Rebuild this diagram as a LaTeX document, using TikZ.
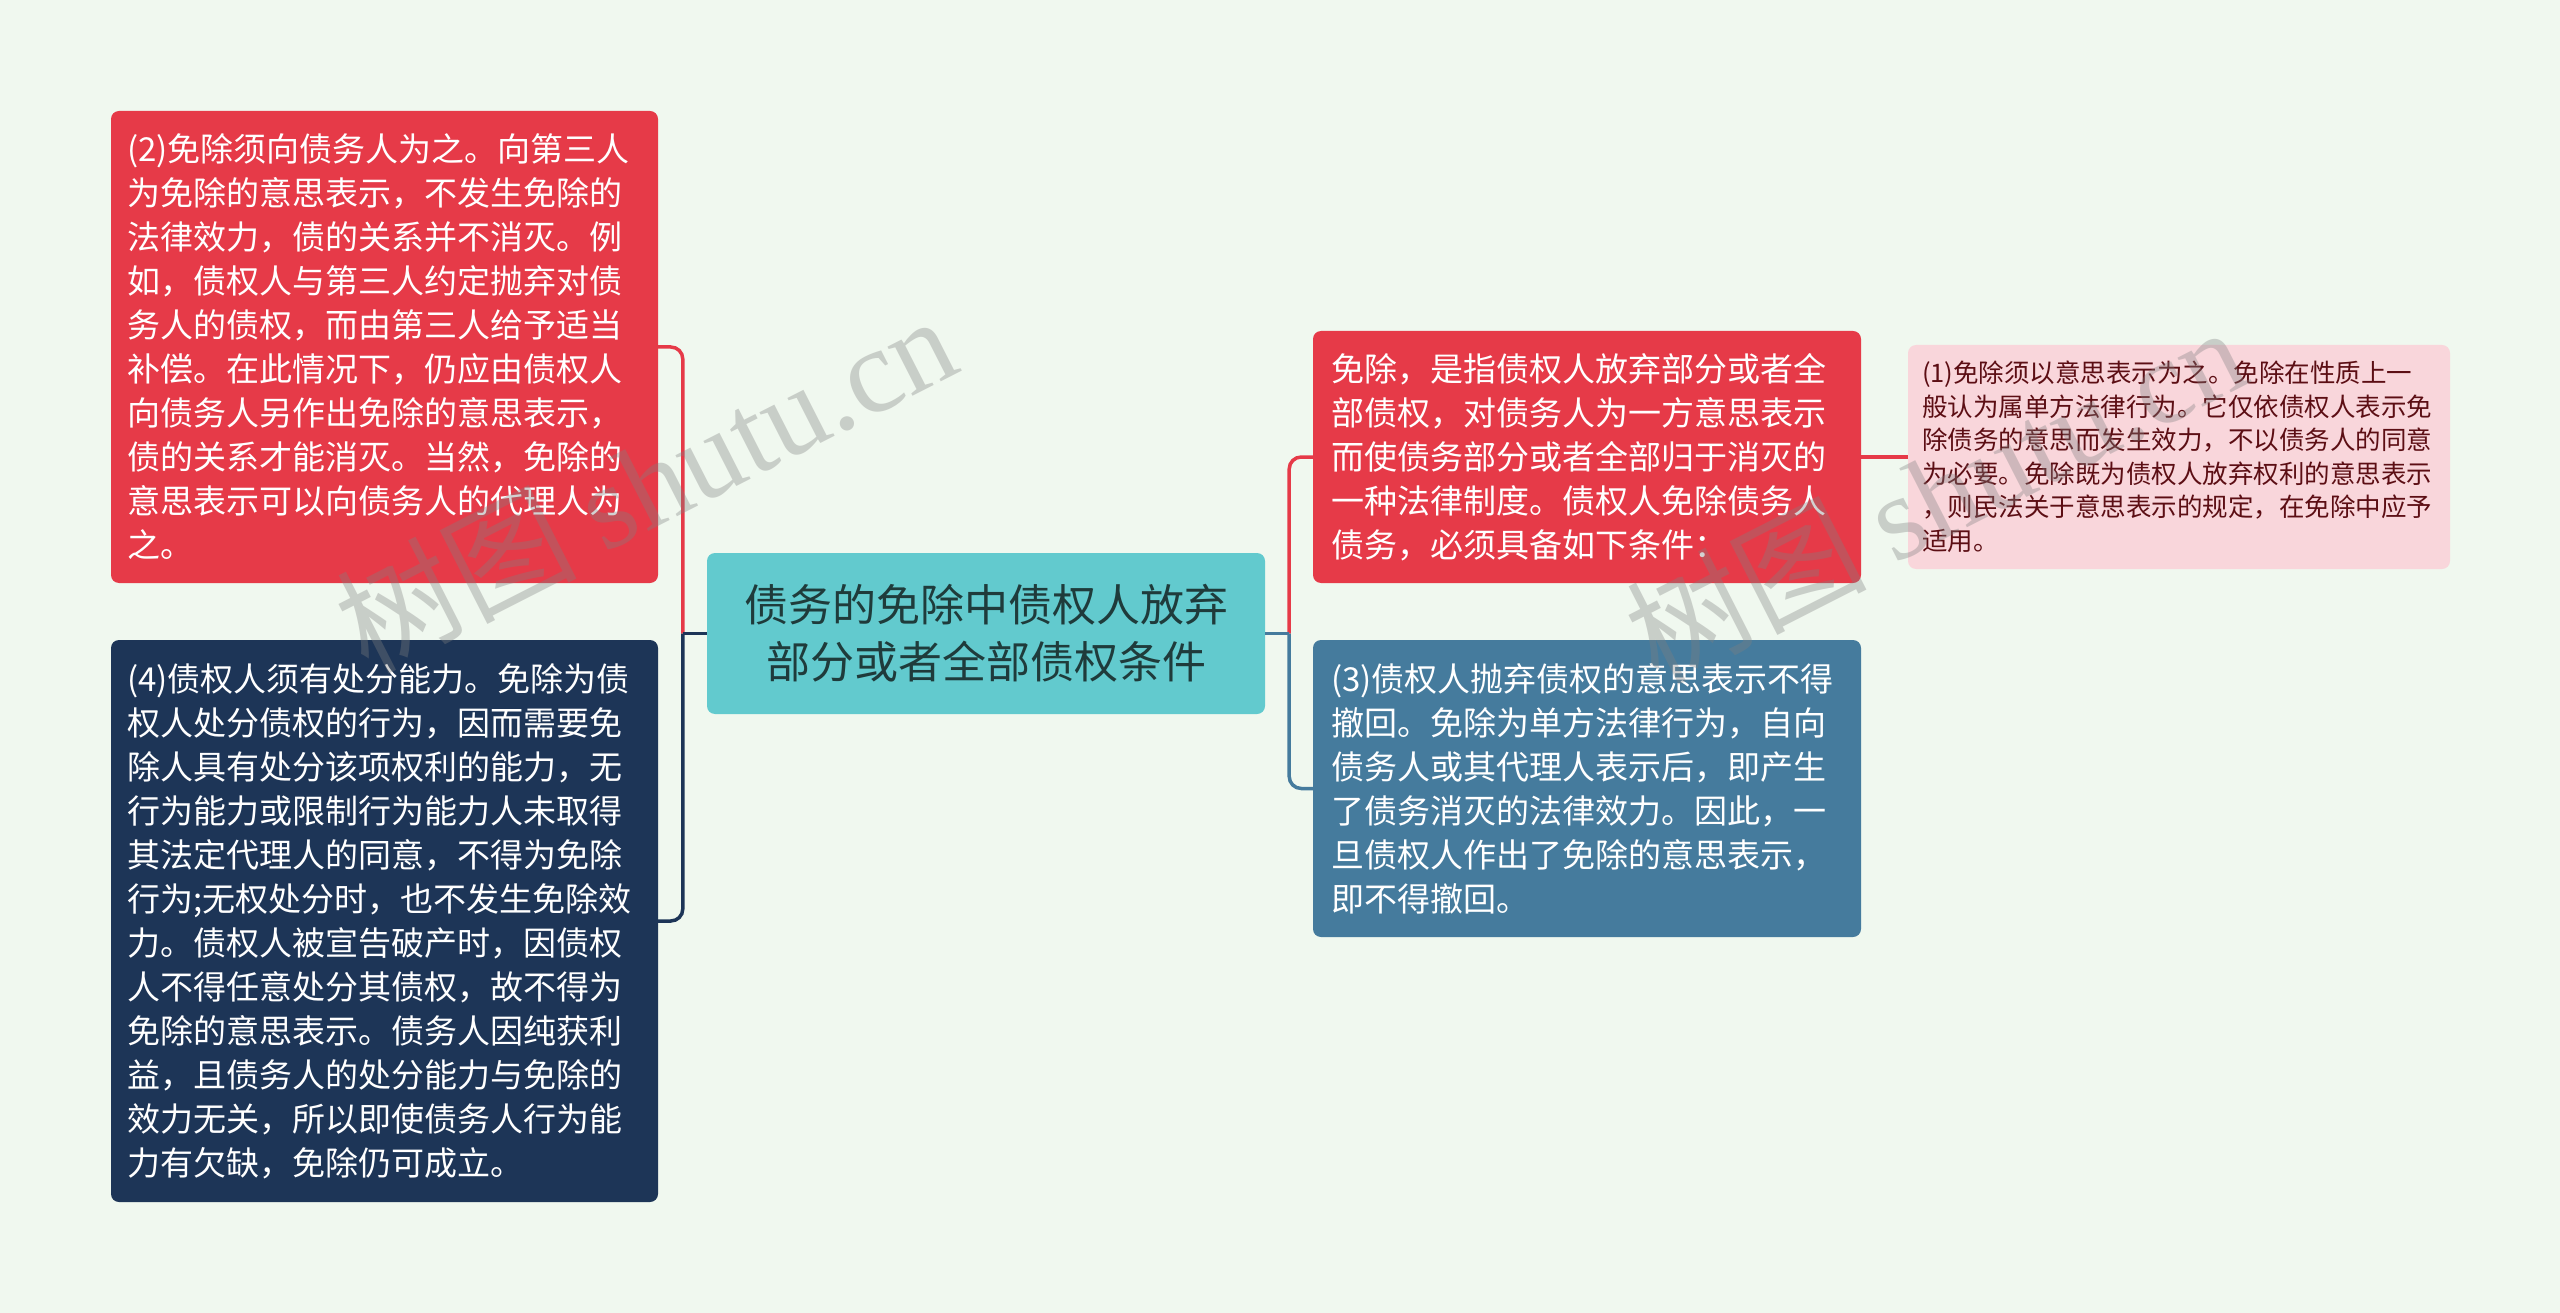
\documentclass[tikz,border=0pt]{standalone}
\usepackage{fontspec}
\setmainfont{Noto Sans CJK SC}
\newfontfamily\cjkfont{Noto Sans CJK SC}
\newfontfamily\wmserif{Liberation Serif}
\usetikzlibrary{calc}
\definecolor{bg}{HTML}{F0F8EF}
\definecolor{cred}{HTML}{E63A48}
\definecolor{cnavy}{HTML}{1D3557}
\definecolor{cblue}{HTML}{457B9D}
\definecolor{cteal}{HTML}{62CACE}
\definecolor{cpink}{HTML}{F9D6DB}
\definecolor{ctealtext}{HTML}{1F3B3B}
\definecolor{cpinktext}{HTML}{5C0E14}
\tikzset{
  box/.style={rectangle, rounded corners=8pt, inner sep=0pt, align=left},
  mainbox/.style={box, fill=#1, text=white, font=\fontsize{33}{44}\selectfont},
  centerbox/.style={box, fill=cteal, text=ctealtext, align=center, font=\fontsize{44}{57}\selectfont},
  pinkbox/.style={box, fill=cpink, text=cpinktext, font=\fontsize{25.5}{33.5}\selectfont},
  link/.style={line width=3.5pt, draw=#1, rounded corners=12pt},
  wm/.style={text=gray, opacity=0.35, font=\fontsize{120}{120}\selectfont, inner sep=0pt},
}
\begin{document}
\begin{tikzpicture}[x=1pt, y=-1pt]
\fill[bg] (0,0) rectangle (2560,1313);
\useasboundingbox (0,0) rectangle (2560,1313);

% center node
\node[centerbox, minimum width=558pt, minimum height=161pt, text width=540pt] (C) at (986,633.5)
  {债务的免除中债权人放弃\\部分或者全部债权条件};

% left nodes
\node[mainbox=cred, minimum width=547pt, minimum height=472pt, text width=515pt] (L1) at (384.5,347)
  {(2)免除须向债务人为之。向第三人\\为免除的意思表示，不发生免除的\\法律效力，债的关系并不消灭。例\\如，债权人与第三人约定抛弃对债\\务人的债权，而由第三人给予适当\\补偿。在此情况下，仍应由债权人\\向债务人另作出免除的意思表示，\\债的关系才能消灭。当然，免除的\\意思表示可以向债务人的代理人为\\之。};
\node[mainbox=cnavy, minimum width=547pt, minimum height=562pt, text width=515pt] (L2) at (384.5,921)
  {(4)债权人须有处分能力。免除为债\\权人处分债权的行为，因而需要免\\除人具有处分该项权利的能力，无\\行为能力或限制行为能力人未取得\\其法定代理人的同意，不得为免除\\行为;无权处分时，也不发生免除效\\力。债权人被宣告破产时，因债权\\人不得任意处分其债权，故不得为\\免除的意思表示。债务人因纯获利\\益，且债务人的处分能力与免除的\\效力无关，所以即使债务人行为能\\力有欠缺，免除仍可成立。};

% right nodes
\node[mainbox=cred, minimum width=548pt, minimum height=252pt, text width=512pt] (R1) at (1587,457)
  {免除，是指债权人放弃部分或者全\\部债权，对债务人为一方意思表示\\而使债务部分或者全部归于消灭的\\一种法律制度。债权人免除债务人\\债务，必须具备如下条件：};
\node[mainbox=cblue, minimum width=548pt, minimum height=297pt, text width=512pt] (R2) at (1587,788.5)
  {(3)债权人抛弃债权的意思表示不得\\撤回。免除为单方法律行为，自向\\债务人或其代理人表示后，即产生\\了债务消灭的法律效力。因此，一\\旦债权人作出了免除的意思表示，\\即不得撤回。};
\node[pinkbox, minimum width=542pt, minimum height=224pt, text width=514pt] (P) at (2179,457)
  {(1)免除须以意思表示为之。免除在性质上一\\般认为属单方法律行为。它仅依债权人表示免\\除债务的意思而发生效力，不以债务人的同意\\为必要。免除既为债权人放弃权利的意思表示\\，则民法关于意思表示的规定，在免除中应予\\适用。};

% connectors
\coordinate (jl) at ($(C.west)+(-24,0)$);
\coordinate (jr) at ($(C.east)+(24,0)$);
\begin{scope}[on background layer/.style={}]
\draw[link=cred] (jl) |- (L1.east);
\draw[link=cnavy] (jl) |- (L2.east);
\draw[link=cnavy] (C.west) -- (jl);
\draw[link=cred] (jr) |- (R1.west);
\draw[link=cblue] (jr) |- (R2.west);
\draw[link=cblue] (C.east) -- (jr);
\draw[link=cred] (R1.east) -- (P.west);
\end{scope}

% watermarks
\node[wm, rotate=27] (wm1) at (645,482) {{\cjkfont 树图} {\wmserif shutu.cn}};
\node[wm, rotate=27] (wm2) at (1935,493) {{\cjkfont 树图} {\wmserif shutu.cn}};
\end{tikzpicture}
\end{document}
